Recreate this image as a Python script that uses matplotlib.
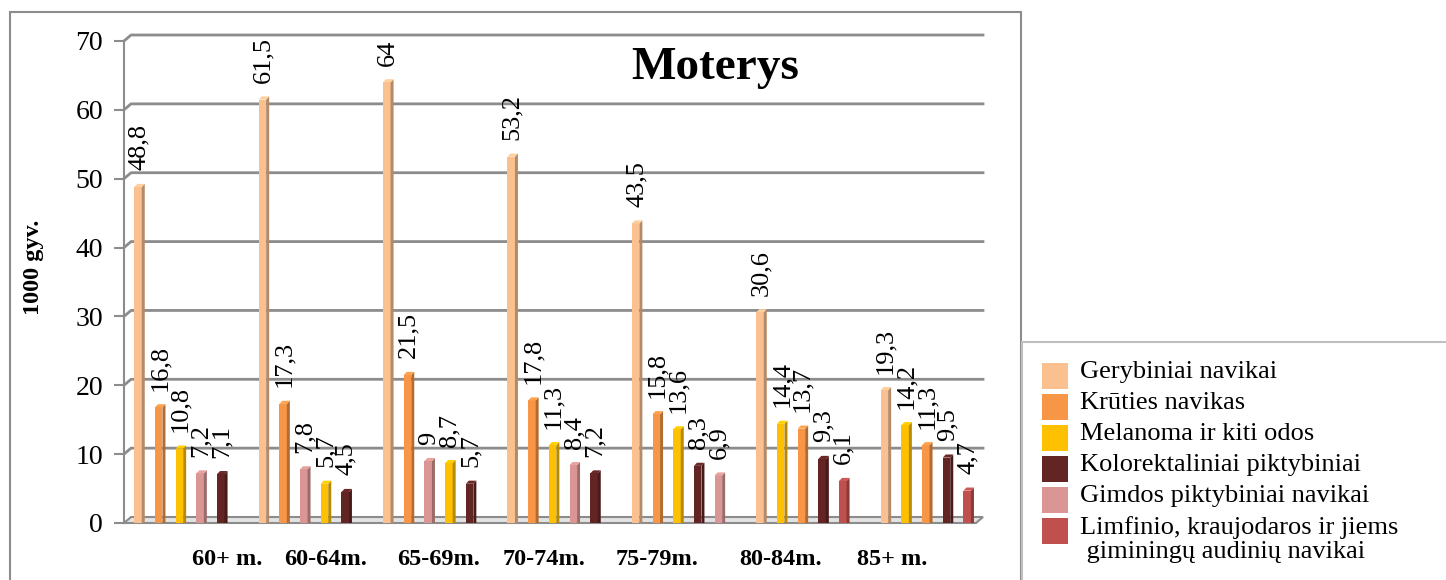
import numpy as np
import matplotlib.pyplot as plt
from matplotlib.patches import Rectangle
from matplotlib.colors import to_rgb

plt.rcParams['font.family'] = ['Liberation Serif', 'DejaVu Serif']

age_groups = ['60+ m.', '60-64m.', '65-69m.', '70-74m.', '75-79m.', '80-84m.', '85+ m.']
series_names = [
    'Gerybiniai navikai',
    'Krūties navikas',
    'Melanoma ir kiti odos',
    'Kolorektaliniai piktybiniai',
    'Gimdos piktybiniai navikai',
    'Limfinio, kraujodaros ir jiems\n giminingų audinių navikai',
]
gerybiniai = [48.8, 61.5, 64, 53.2, 43.5, 30.6, 19.3]
kruties = [16.8, 17.3, 21.5, 17.8, 15.8, 13.7, 11.3]
melanoma = [10.8, 5.7, 8.7, 11.3, 13.6, 14.4, 14.2]
kolorektaliniai = [7.1, 4.5, 5.7, 7.2, 8.3, 9.3, 9.5]
gimdos = [7.2, 7.8, 9, 8.4, 6.9, np.nan, np.nan]
limfinio = [np.nan, np.nan, np.nan, np.nan, np.nan, 6.1, 4.7]
colors = ['#FAC090', '#F79646', '#FFC000', '#632523', '#D99694', '#C0504D']

values = np.array([gerybiniai, kruties, melanoma, kolorektaliniai, gimdos, limfinio])

W, H = 1446, 580
fig = plt.figure(figsize=(W / 100, H / 100), dpi=100)
ax = fig.add_axes([124 / W, 57 / H, 859 / W, 482 / H])

px = 124.4            # pixels per group unit
bar_step = 20.7 / px
front_w = 7.5 / px
side_w = 3 / px
depth_y = 0.45
x_left = -14 / px
x_right = x_left + 859 / px
ax.set_xlim(x_left, x_right)
ax.set_ylim(0, 70)

# 3d-ish back wall grid
dx, dy = 7 / px, 0.87
grid_c = '#8c8c8c'
for v in range(10, 80, 10):
    ax.plot([x_left, x_left + dx, x_right], [v, v + dy, v + dy], color=grid_c, lw=2,
            clip_on=False, zorder=1)
ax.plot([x_left, x_left], [0, 70], color=grid_c, lw=1.5, clip_on=False, zorder=1)
# floor
floor_x = [x_left, x_right - dx, x_right, x_left + dx]
floor_y = [0, 0, dy, dy]
ax.fill(floor_x, floor_y, facecolor='#e3e3e3', edgecolor=grid_c, lw=1.5, clip_on=False, zorder=1)

for gi in range(len(age_groups)):
    col = values[:, gi]
    order = [s for s in np.argsort(-np.nan_to_num(col, nan=-1)) if not np.isnan(col[s])]
    for j, s in enumerate(order):
        v = col[s]
        xc = gi + j * bar_step
        xl = xc - front_w / 2
        xr = xc + front_w / 2
        c = np.array(to_rgb(colors[s]))
        ax.bar(xc, v, width=front_w, color=c, zorder=3)
        ax.fill([xr, xr + side_w, xr + side_w, xr], [0, 0, v + depth_y, v],
                color=c * 0.72, lw=0, zorder=3)
        ax.fill([xl, xl + side_w, xr + side_w, xr], [v, v + depth_y, v + depth_y, v],
                color=np.minimum(c * 1.08, 1), lw=0, zorder=3)
        ax.text(xc + 1 / px, v + 2.4, f'{v:g}'.replace('.', ','), rotation=90,
                ha='center', va='bottom', fontsize=19, zorder=4)

for sp in ax.spines.values():
    sp.set_visible(False)
ax.set_yticks(range(0, 80, 10))
ax.tick_params(axis='y', length=7, width=1.5, color=grid_c, labelsize=20, pad=8)

label_px = [227, 326, 439, 544, 657, 781, 892]
ax.set_xticks([(p - 124) / px + x_left for p in label_px])
ax.set_xticklabels(age_groups, fontsize=17.5, fontweight='bold')
ax.tick_params(axis='x', length=0, pad=19)

fig.text(715 / W, 1 - 68 / H, 'Moterys', fontsize=34, fontweight='bold',
         ha='center', va='center')
fig.text(33 / W, 1 - 267 / H, '1000 gyv.', fontsize=17.5, fontweight='bold',
         rotation=90, ha='center', va='center')

# frames
fig.add_artist(Rectangle((10 / W, -0.01), 1011 / W, (H - 12) / H + 0.01,
                         transform=fig.transFigure, fill=False, ec='#8c8c8c', lw=1.5))
fig.add_artist(Rectangle((1022 / W, -0.01), 430 / W, (H - 342) / H + 0.01,
                         transform=fig.transFigure, fill=False, ec='#bfbfbf', lw=1.5))

# legend
for k, name in enumerate(series_names):
    yc = 376 + k * 31
    fig.add_artist(Rectangle((1042 / W, 1 - (yc + 13) / H), 26 / W, 26 / H,
                             transform=fig.transFigure, fc=colors[k], ec='none'))
    fig.text(1080 / W, 1 - (yc - 15) / H, name, fontsize=19, ha='left', va='top',
             linespacing=1.12)

fig.savefig('out.png', dpi=100)
